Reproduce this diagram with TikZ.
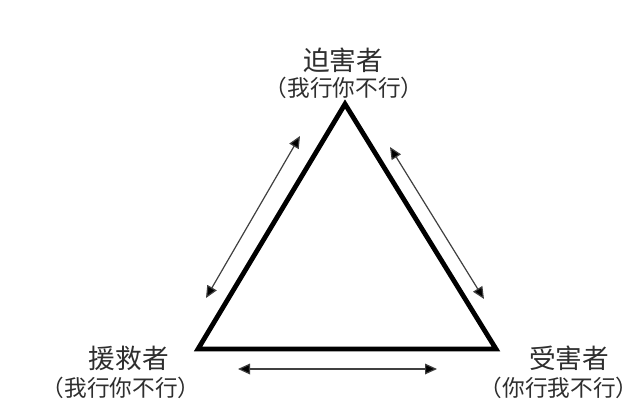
\documentclass[tikz,border=0pt]{standalone}
\usepackage{fontspec}
\newfontfamily\cjk{Noto Sans CJK SC}
\usetikzlibrary{arrows.meta}
\begin{document}
\begin{tikzpicture}[x=0.75pt,y=-0.75pt,
  tri/.style={line width=3.6pt,line join=miter},
  rel/.style={line width=0.9pt,draw=black!75,{Triangle[length=9pt,width=8pt,fill=black]}-{Triangle[length=9pt,width=8pt,fill=black]}},
  role/.style={font=\cjk\fontsize{20}{22}\selectfont,text=black!82,inner sep=0pt},
  stance/.style={font=\cjk\fontsize{17}{19}\selectfont,text=black!82,inner sep=0pt}]
\useasboundingbox (0,0) rectangle (640,404);
\fill[white] (0,0) rectangle (640,404);
\coordinate (A) at (345,104);
\coordinate (L) at (198,349);
\coordinate (R) at (496,349);
\draw[tri] (A) -- (L) -- (R) -- cycle;
\node[role] (pt) at (343,60) {迫害者};
\node[stance] (ps) at (344,88) {（我行你不行）};
\node[role] (rt) at (129,358) {援救者};
\node[stance] (rs) at (121,388) {（我行你不行）};
\node[role] (vt) at (569,358) {受害者};
\node[stance] (vs) at (559,388) {（你行我不行）};
\coordinate (a1) at (300,136);
\coordinate (a2) at (206,298);
\coordinate (b1) at (390,147);
\coordinate (b2) at (484,299);
\coordinate (c1) at (238,369);
\coordinate (c2) at (437,369);
\draw[rel] (a1) -- (a2);
\draw[rel] (b1) -- (b2);
\draw[rel] (c1) -- (c2);
\end{tikzpicture}
\end{document}
